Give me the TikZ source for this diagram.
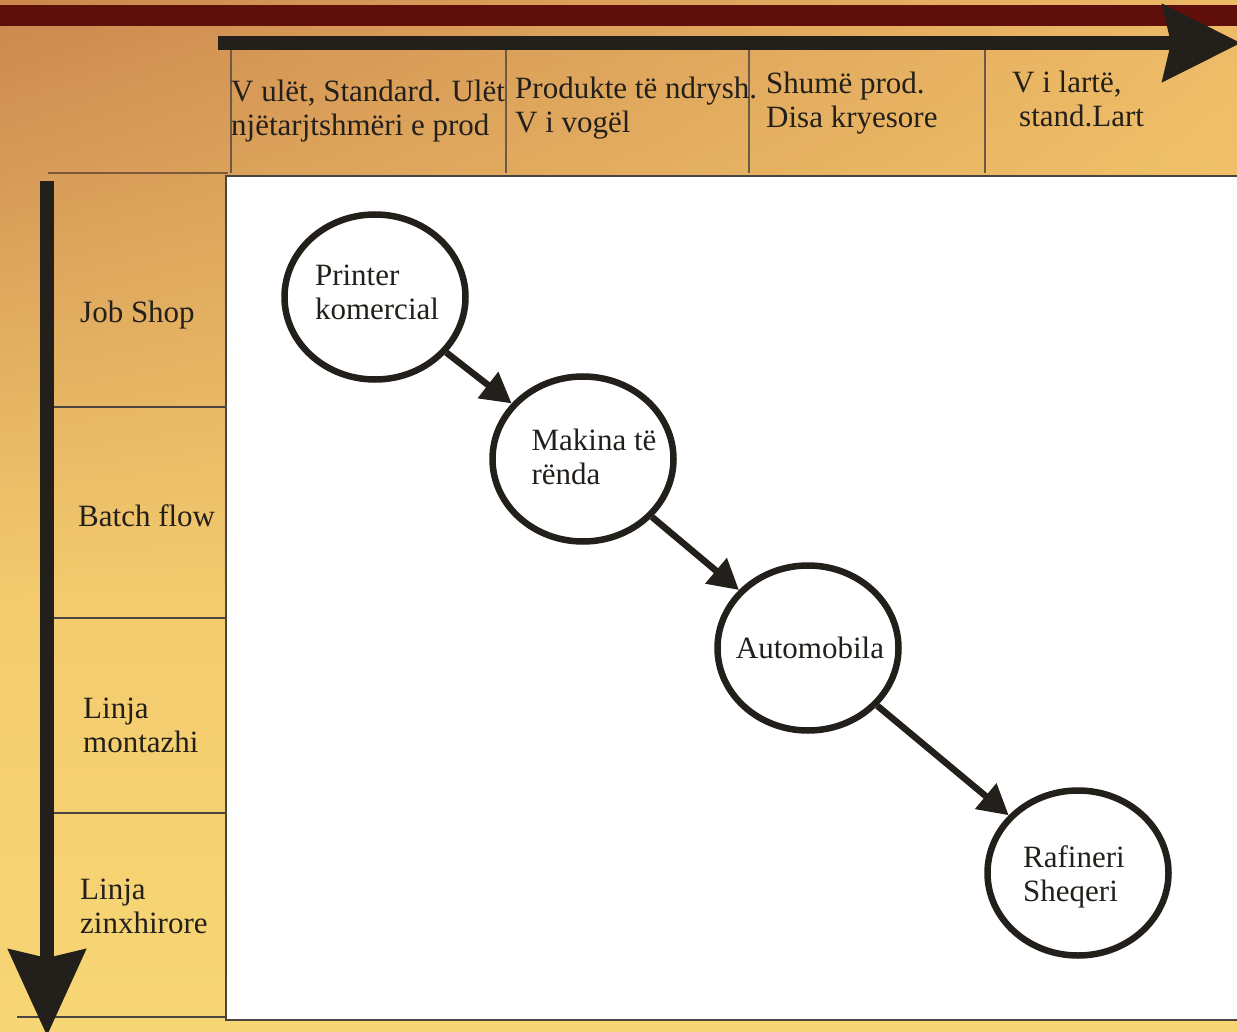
\documentclass[tikz,border=0pt]{standalone}
\usepackage{fontspec}
\setmainfont{Liberation Serif}
\usetikzlibrary{shapes.geometric,arrows.meta,shadings}
\definecolor{ink}{HTML}{231F1B}
\definecolor{bandred}{HTML}{5E0F0A}
\definecolor{bgUL}{HTML}{CB874E}
\definecolor{bgUR}{HTML}{EDBA66}
\definecolor{bgML}{HTML}{F3CB6E}
\definecolor{bgMR}{HTML}{F5D171}
\definecolor{bgBot}{HTML}{F7D675}
\definecolor{cellline}{HTML}{6B5A45}
\definecolor{topline}{HTML}{7A5A3A}
\definecolor{rowline}{HTML}{4A4540}
\tikzset{
  txt/.style={font=\fontsize{31}{34}\selectfont, text=ink, inner sep=0pt},
  lbl/.style={txt, anchor=base west, align=left},
  procnode/.style={ellipse, draw=ink, line width=6.5pt, fill=white,
    minimum width=181pt, minimum height=165pt, inner sep=0pt},
  proctext/.style={txt, align=left, line width=0pt},
  flow/.style={draw=ink, line width=6.5pt, -{Triangle[length=30pt,width=32pt]}},
  axisline/.style={draw=ink, line width=14pt},
  cellsep/.style={draw=cellline, line width=1.3pt},
  rowsep/.style={draw=rowline, line width=1.3pt}
}
\begin{document}
\begin{tikzpicture}[x=1pt,y=-1pt]
\useasboundingbox (0,0) rectangle (1237,1032);
% background
\shade[upper left=bgUL, upper right=bgUR, lower left=bgML, lower right=bgMR]
  (0,0) rectangle (1237,600);
\shade[top color=bgML, bottom color=bgBot] (0,600) rectangle (1237,1032);
\fill[bandred] (0,5) rectangle (1237,26);
% header cells
\draw[cellsep] (231,50) -- (231,173);
\draw[cellsep] (506,50) -- (506,173);
\draw[cellsep] (749,50) -- (749,173);
\draw[cellsep] (985,50) -- (985,173);
\draw[draw=topline, line width=2pt] (48,173) -- (228,173);
% row separators
\draw[rowsep] (54,407) -- (228,407);
\draw[rowsep] (54,618) -- (228,618);
\draw[rowsep] (54,813) -- (230,813);
\draw[rowsep] (17,1017) -- (228,1017);
% white panel
\draw[draw=rowline, line width=1.3pt, fill=white] (226,176) rectangle (1245,1020);
% axes
\coordinate (hstart) at (218,43);
\coordinate (hend) at (1241,43);
\coordinate (vstart) at (47,181);
\coordinate (vend) at (47,1036);
\draw[axisline, -{Stealth[length=78pt,width=76pt,inset=8pt]}] (hstart) -- (hend);
\draw[axisline, -{Stealth[length=86pt,width=76pt,inset=8pt]}] (vstart) -- (vend);
% header labels (anchor = baseline of last line)
\node[lbl] (h1) at (231,136) {V ulët, Standard. Ulët\\njëtarjtshmëri e prod};
\node[lbl] (h2) at (515,133) {Produkte të ndrysh.\\V i vogël};
\node[lbl] (h3) at (766,128) {Shumë prod.\\Disa kryesore};
\node[lbl] (h4) at (1012,127) {V i lartë,\\\hspace*{7pt}stand.Lart};
% row labels
\node[lbl] (r1) at (80,323) {Job Shop};
\node[lbl] (r2) at (78,526) {Batch flow};
\node[lbl] (r3) at (83,752) {Linja\\montazhi};
\node[lbl] (r4) at (80,933) {Linja\\zinxhirore};
% process nodes
\node[procnode, label={[proctext, xshift=2pt, yshift=5pt]center:{Printer\\komercial}}] (printer) at (375,297) {};
\node[procnode, label={[proctext, xshift=11pt, yshift=2pt]center:{Makina të\\rënda}}] (makina) at (583,459) {};
\node[procnode, label={[proctext, xshift=2pt, yshift=0pt]center:{Automobila}}] (auto) at (808,648) {};
\node[procnode, label={[proctext, xshift=-4pt, yshift=-4pt]center:{Rafineri\\Sheqeri}}] (rafineri) at (1078,873) {};
% connectors
\draw[flow] (printer) -- (makina);
\draw[flow] (makina) -- (auto);
\draw[flow] (auto) -- (rafineri);
\end{tikzpicture}
\end{document}
